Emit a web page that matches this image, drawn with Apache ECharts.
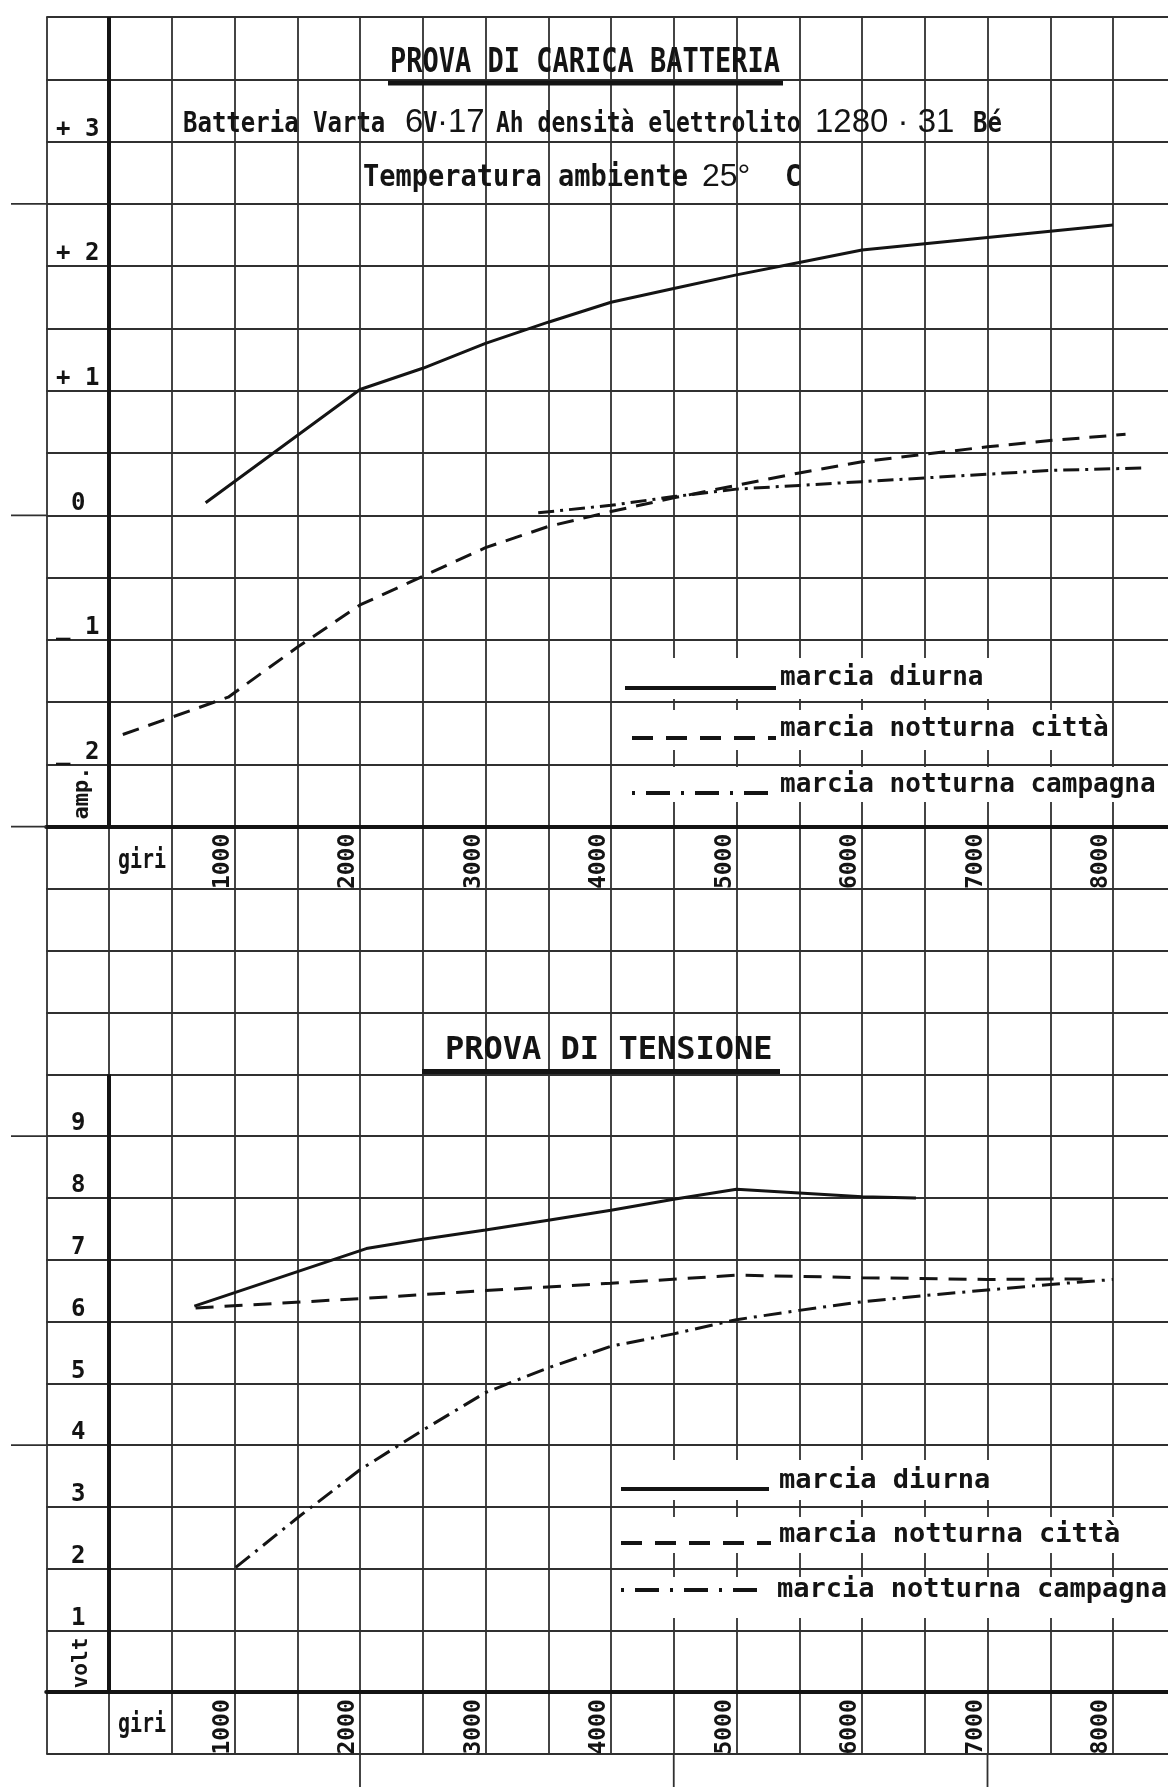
<!DOCTYPE html>
<html>
<head>
<meta charset="utf-8">
<title>Prova di carica batteria / Prova di tensione</title>
<script src="https://cdn.jsdelivr.net/npm/echarts@6.0.0/dist/echarts.min.js"></script>
<style>
  html, body { margin: 0; padding: 0; background: #fff; }
  #chart { width: 1168px; height: 1787px; }
</style>
</head>
<body>
<div id="chart"></div>
<script>
// prova di carica: giri -> ampere
const giriDiurnaA = [770, 2000, 2500, 3000, 3500, 4000, 4500, 5000, 5500, 6000, 6500, 7000, 7500, 8000]
const ampDiurna = [0.1, 1.01, 1.18, 1.38, 1.55, 1.71, 1.82, 1.93, 2.03, 2.13, 2.18, 2.23, 2.28, 2.33]
const giriCittaA = [110, 950, 1500, 2000, 2500, 3000, 3500, 4000, 4500, 5000, 5500, 6000, 6500, 7000, 7500, 8100]
const ampCitta = [-1.76, -1.46, -1.06, -0.72, -0.49, -0.26, -0.09, 0.03, 0.14, 0.24, 0.34, 0.43, 0.49, 0.55, 0.6, 0.65]
const giriCampagnaA = [3420, 4000, 4500, 5000, 5500, 6000, 6500, 7000, 7500, 8230]
const ampCampagna = [0.02, 0.08, 0.15, 0.21, 0.24, 0.27, 0.3, 0.33, 0.36, 0.38]

// prova di tensione: giri -> volt
const giriDiurnaV = [680, 2050, 2500, 3000, 3500, 4000, 4500, 5000, 5500, 6000, 6430]
const voltDiurna = [6.25, 7.18, 7.33, 7.48, 7.64, 7.8, 7.98, 8.14, 8.08, 8.02, 8.0]
const giriCittaV = [690, 2000, 3000, 4000, 5000, 6000, 7000, 7800]
const voltCitta = [6.22, 6.37, 6.5, 6.62, 6.75, 6.71, 6.68, 6.69]
const giriCampagnaV = [1010, 1500, 2000, 2500, 3000, 3500, 4000, 4500, 5000, 5500, 6000, 6500, 7000, 7500, 8000]
const voltCampagna = [2.02, 2.82, 3.6, 4.24, 4.85, 5.25, 5.6, 5.8, 6.03, 6.18, 6.32, 6.42, 6.51, 6.6, 6.68]

// tick labels
const giriTicks = [1000, 2000, 3000, 4000, 5000, 6000, 7000, 8000]
const ampTicks = [-2, -1, 0, 1, 2, 3]
const ampTickLabels = ['_ 2', '_ 1', '0', '+ 1', '+ 2', '+ 3']
const voltTicks = [1, 2, 3, 4, 5, 6, 7, 8, 9]
const voltTickLabels = ['1', '2', '3', '4', '5', '6', '7', '8', '9']

const seriesNames = ['marcia diurna', 'marcia notturna città', 'marcia notturna campagna']

const mono = '"DejaVu Sans Mono", "Liberation Mono", monospace'
const sans = '"Liberation Sans", "DejaVu Sans", sans-serif'
const ink = '#141414'
const gridInk = '#303030'
const dashCitta = [17, 10]
const dashCampagna = [16, 6, 3, 6]

// one column (500 giri) is 62.75 px, one row is 872/14 px on top and 865/14 px below
const colW = 62.75

const pairs = (xs, ys) => xs.map((x, i) => [x, ys[i]])

function giriAxis(gridIndex, rowH) {
  return {
    type: 'value',
    gridIndex: gridIndex,
    min: -500,
    max: 9000,
    interval: 500,
    position: 'bottom',
    offset: -rowH,
    axisLine: { show: true, onZero: false, lineStyle: { color: ink, width: 4 } },
    axisTick: { show: false },
    axisLabel: {
      rotate: 90,
      margin: 7,
      align: 'right',
      verticalAlign: 'bottom',
      fontFamily: mono,
      fontWeight: 'bold',
      fontSize: 23,
      color: ink,
      formatter: v => giriTicks.indexOf(v) >= 0 ? String(v) : ''
    },
    splitLine: { show: true, lineStyle: { color: gridInk, width: 1.8 } }
  }
}

function valueAxis(gridIndex, min, max, interval, ticks, labels) {
  const font = { fontFamily: mono, fontWeight: 'bold', fontSize: 24, color: ink }
  return {
    type: 'value',
    gridIndex: gridIndex,
    min: min,
    max: max,
    interval: interval,
    position: 'left',
    offset: -colW,
    axisLine: { show: false, onZero: false },
    axisTick: { show: false },
    axisLabel: Object.assign({
      margin: 53,
      align: 'left',
      verticalAlign: 'bottom',
      formatter: v => {
        const i = ticks.indexOf(v)
        if (i < 0) return ''
        // single figures sit further in, as on the sheet
        return labels[i].length === 1 ? '{d|' + labels[i] + '}' : labels[i]
      },
      rich: { d: Object.assign({ padding: [0, 0, 0, 15] }, font) }
    }, font),
    splitLine: { show: true, lineStyle: { color: gridInk, width: 1.8 } }
  }
}

function lineSeries(name, gridIndex, data, dash, axisFrom, axisTo) {
  const s = {
    name: name,
    type: 'line',
    xAxisIndex: gridIndex,
    yAxisIndex: gridIndex,
    data: data,
    symbol: 'none',
    showSymbol: false,
    lineStyle: { color: ink, width: 3, type: dash || 'solid' },
    emphasis: { disabled: true },
    z: 3
  }
  if (axisFrom !== undefined) {
    // bold ordinate drawn on giri = 0
    s.markLine = {
      silent: true,
      symbol: ['none', 'none'],
      label: { show: false },
      lineStyle: { color: ink, width: 4, type: 'solid' },
      emphasis: { disabled: true },
      data: [[{ coord: [0, axisFrom] }, { coord: [0, axisTo] }]]
    }
  }
  return s
}

const chart = echarts.init(document.getElementById('chart'))

chart.setOption({
  animation: false,
  backgroundColor: '#fff',
  grid: [
    { left: 46.25, top: 17, width: 1192.25, height: 872, outerBoundsMode: 'none' },
    { left: 46.25, top: 889, width: 1192.25, height: 865, outerBoundsMode: 'none' }
  ],
  xAxis: [
    giriAxis(0, 872 / 14),
    giriAxis(1, 865 / 14)
  ],
  yAxis: [
    valueAxis(0, -3, 4, 0.5, ampTicks, ampTickLabels),
    valueAxis(1, -1, 13, 1, voltTicks, voltTickLabels)
  ],
  series: [
    lineSeries(seriesNames[0], 0, pairs(giriDiurnaA, ampDiurna), null, -2.5, 4),
    lineSeries(seriesNames[1], 0, pairs(giriCittaA, ampCitta), dashCitta),
    lineSeries(seriesNames[2], 0, pairs(giriCampagnaA, ampCampagna), dashCampagna),
    lineSeries(seriesNames[0], 1, pairs(giriDiurnaV, voltDiurna), null, 0, 10),
    lineSeries(seriesNames[1], 1, pairs(giriCittaV, voltCitta), [18, 11]),
    lineSeries(seriesNames[2], 1, pairs(giriCampagnaV, voltCampagna), [18, 7, 3, 7])
  ]
})

// text helper: x, baseline, scaled around the baseline
function label(x, baseline, text, size, opt) {
  opt = opt || {}
  return {
    type: 'text',
    x: x,
    y: baseline,
    z: 8,
    scaleY: opt.scaleY || 1,
    rotation: opt.rotation || 0,
    style: {
      x: 0,
      y: opt.center ? 0 : -0.3 * size,
      text: text,
      font: (opt.weight || 'bold') + ' ' + size + 'px ' + (opt.family || mono),
      fill: ink,
      textAlign: opt.align || 'left',
      textVerticalAlign: 'middle'
    }
  }
}

function hline(x1, x2, y, w) {
  return { type: 'line', z: 7, shape: { x1: x1, y1: y, x2: x2, y2: y }, style: { stroke: gridInk, lineWidth: w || 1.8 } }
}

function legendRow(box, lineX1, lineX2, lineY, dash, textX, baseline, size, name) {
  return [
    { type: 'rect', z: 7, shape: { x: box[0], y: box[1], width: box[2] - box[0], height: box[3] - box[1] }, style: { fill: '#fff' } },
    { type: 'line', z: 8, shape: { x1: lineX1, y1: lineY, x2: lineX2, y2: lineY }, style: { stroke: ink, lineWidth: 4, lineDash: dash } },
    label(textX, baseline, name, size)
  ]
}

const graphics = []

// rows that run past the frame on the left
;[[0, 2.5], [0, 0], [0, -2.5], [1, 9], [1, 4]].forEach(function (r) {
  const p = chart.convertToPixel({ gridIndex: r[0] }, [-500, r[1]])
  graphics.push(hline(11, p[0], p[1]))
})
// columns that run off the bottom of the sheet
;[2000, 4500, 7000].forEach(function (g) {
  const p = chart.convertToPixel({ gridIndex: 1 }, [g, -1])
  graphics.push({ type: 'line', z: 7, shape: { x1: p[0], y1: p[1], x2: p[0], y2: 1787 }, style: { stroke: gridInk, lineWidth: 1.8 } })
})

// titles
graphics.push(label(390, 73, 'PROVA DI CARICA BATTERIA', 27, { scaleY: 1.27 }))
graphics.push({ type: 'rect', z: 8, shape: { x: 388, y: 80.5, width: 395, height: 5 }, style: { fill: ink } })
graphics.push(label(183, 133, 'Batteria Varta', 24, { scaleY: 1.2 }))
graphics.push(label(405, 133, '6', 33, { weight: 'normal', family: sans }))
graphics.push(label(423, 133, 'V', 24, { scaleY: 1.2 }))
graphics.push(label(437, 133, '·17', 33, { weight: 'normal', family: sans }))
graphics.push(label(496, 133, 'Ah densità elettrolito', 23, { scaleY: 1.25 }))
graphics.push(label(815, 133, '1280 · 31', 33, { weight: 'normal', family: sans }))
graphics.push(label(973, 133, 'Bé', 24, { scaleY: 1.2 }))
graphics.push(label(363, 187, 'Temperatura ambiente', 27, { scaleY: 1.12 }))
graphics.push(label(702, 187, '25°', 32, { weight: 'normal', family: sans }))
graphics.push(label(785, 187, 'C', 27, { scaleY: 1.12 }))

graphics.push(label(445, 1060, 'PROVA DI TENSIONE', 32))
graphics.push({ type: 'rect', z: 8, shape: { x: 422, y: 1069, width: 358, height: 5 }, style: { fill: ink } })

// axis names
graphics.push(label(82, 793, 'amp.', 22, { rotation: Math.PI / 2, align: 'center', center: true }))
graphics.push(label(82, 1663, 'volt', 21, { rotation: Math.PI / 2, align: 'center', center: true }))
graphics.push(label(142, 869, 'giri', 20, { align: 'center', scaleY: 1.35 }))
graphics.push(label(142, 1733, 'giri', 20, { align: 'center', scaleY: 1.35 }))

// legends
const legendDash = [null, [21, 13], [3, 11, 24, 11]]
Array.prototype.push.apply(graphics, legendRow([619, 658, 1000, 699], 625, 776, 688, legendDash[0], 780, 686, 26, seriesNames[0]))
Array.prototype.push.apply(graphics, legendRow([619, 710, 1104, 750], 632, 776, 738, legendDash[1], 780, 737, 26, seriesNames[1]))
Array.prototype.push.apply(graphics, legendRow([619, 767, 1168, 802], 632, 774, 793, legendDash[2], 780, 793, 26, seriesNames[2]))
Array.prototype.push.apply(graphics, legendRow([619, 1460, 1000, 1500], 621, 769, 1489, legendDash[0], 779, 1489, 27, seriesNames[0]))
Array.prototype.push.apply(graphics, legendRow([619, 1517, 1128, 1553], 621, 771, 1543, legendDash[1], 779, 1543, 27, seriesNames[1]))
Array.prototype.push.apply(graphics, legendRow([619, 1577, 1168, 1618], 621, 762, 1590, legendDash[2], 777, 1598, 27, seriesNames[2]))

chart.setOption({ graphic: graphics })
</script>
</body>
</html>
